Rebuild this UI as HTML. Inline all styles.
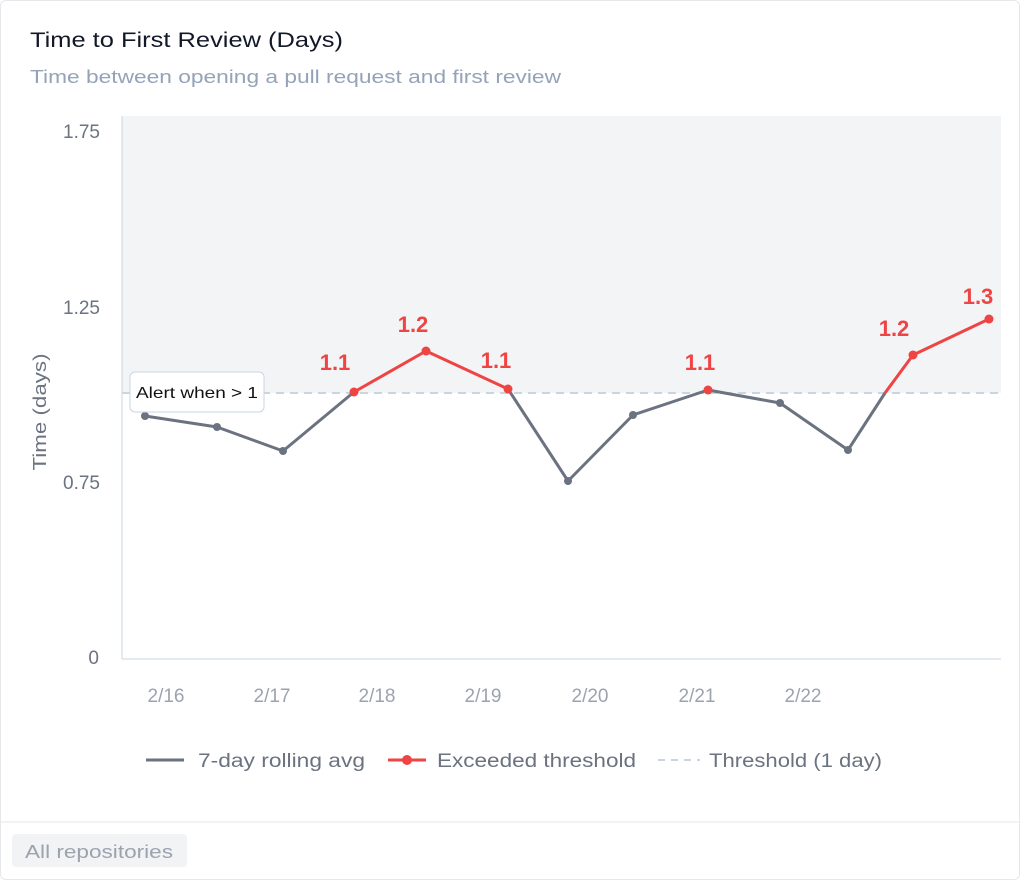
<!DOCTYPE html>
<html><head><meta charset="utf-8"><style>
body{margin:0;background:#fff;font-family:"Liberation Sans",sans-serif;}
.card{position:absolute;left:0;top:0;width:1018px;height:878px;border:1px solid #e5e7eb;border-radius:6px;}
</style></head><body>
<div class="card"></div>
<svg width="1020" height="880" style="position:absolute;left:0;top:0" font-family="Liberation Sans, sans-serif">
<text x="30" y="47" font-size="21" fill="#111827" textLength="313" lengthAdjust="spacingAndGlyphs">Time to First Review (Days)</text>
<text x="30" y="83" font-size="18" fill="#94a3b8" textLength="531" lengthAdjust="spacingAndGlyphs">Time between opening a pull request and first review</text>
<rect x="122" y="116" width="879" height="277" fill="#f3f4f6"/>
<line x1="122" y1="116" x2="122" y2="659" stroke="#cbd5e1"/>
<line x1="122" y1="659" x2="1001" y2="659" stroke="#cbd5e1"/>
<line x1="122" y1="393" x2="1001" y2="393" stroke="#cbd5e1" stroke-width="2" stroke-dasharray="8,6"/>
<g font-size="19" fill="#6b7280" text-anchor="end">
<text x="100" y="138">1.75</text><text x="100" y="314">1.25</text><text x="100" y="489">0.75</text><text x="99" y="664">0</text>
</g>
<text transform="translate(46,412) rotate(-90)" font-size="18" fill="#6b7280" text-anchor="middle" textLength="117" lengthAdjust="spacingAndGlyphs">Time (days)</text>
<g font-size="19" fill="#9ca3af" text-anchor="middle">
<text x="166" y="702">2/16</text><text x="272" y="702">2/17</text><text x="377" y="702">2/18</text><text x="483" y="702">2/19</text><text x="590" y="702">2/20</text><text x="697" y="702">2/21</text><text x="803" y="702">2/22</text>
</g>
<polyline fill="none" stroke="#6b7280" stroke-width="3" stroke-linejoin="round" points="145,416 217,427 283,451 354,392"/>
<polyline fill="none" stroke="#6b7280" stroke-width="3" stroke-linejoin="round" points="508,389 568,481 633,415 708,390 780,403 848,450 885,393"/>
<polyline fill="none" stroke="#ef4444" stroke-width="3" stroke-linejoin="round" points="354,392 426,351 508,389"/>
<polyline fill="none" stroke="#ef4444" stroke-width="3" stroke-linejoin="round" points="885,393 913,355 989,319"/>
<g fill="#6b7280"><circle cx="145" cy="416" r="4"/><circle cx="217" cy="427" r="4"/><circle cx="283" cy="451" r="4"/><circle cx="568" cy="481" r="4"/><circle cx="633" cy="415" r="4"/><circle cx="780" cy="403" r="4"/><circle cx="848" cy="450" r="4"/></g>
<g fill="#ef4444"><circle cx="354" cy="392" r="4.5"/><circle cx="426" cy="351" r="4.5"/><circle cx="508" cy="389" r="4.5"/><circle cx="708" cy="390" r="4.5"/><circle cx="913" cy="355" r="4.5"/><circle cx="989" cy="319" r="4.5"/></g>
<g font-size="22" font-weight="bold" fill="#ef4444" text-anchor="middle">
<text x="335" y="370">1.1</text><text x="413" y="332">1.2</text><text x="496" y="368">1.1</text><text x="700" y="370">1.1</text><text x="894" y="336">1.2</text><text x="978" y="304">1.3</text>
</g>
<rect x="130" y="372" width="134" height="40" rx="5" fill="#fff" stroke="#cbd5e1"/>
<text x="136" y="398" font-size="16" fill="#111" textLength="122" lengthAdjust="spacingAndGlyphs">Alert when &gt; 1</text>
<line x1="146" y1="760" x2="184" y2="760" stroke="#6b7280" stroke-width="3"/>
<text x="198" y="767" font-size="19" fill="#6b7280" textLength="167" lengthAdjust="spacingAndGlyphs">7-day rolling avg</text>
<line x1="388" y1="760" x2="426" y2="760" stroke="#ef4444" stroke-width="3"/><circle cx="407" cy="760" r="5" fill="#ef4444"/>
<text x="437" y="767" font-size="19" fill="#6b7280" textLength="199" lengthAdjust="spacingAndGlyphs">Exceeded threshold</text>
<line x1="658" y1="760" x2="700" y2="760" stroke="#cbd5e1" stroke-width="2" stroke-dasharray="7,6"/>
<text x="709" y="767" font-size="19" fill="#6b7280" textLength="173" lengthAdjust="spacingAndGlyphs">Threshold (1 day)</text>
<line x1="1" y1="822" x2="1019" y2="822" stroke="#e5e7eb"/>
<rect x="12" y="834" width="175" height="33" rx="4" fill="#f1f3f5"/>
<text x="25" y="858" font-size="18" fill="#9ca3af" textLength="148" lengthAdjust="spacingAndGlyphs">All repositories</text>
</svg>
</body></html>
